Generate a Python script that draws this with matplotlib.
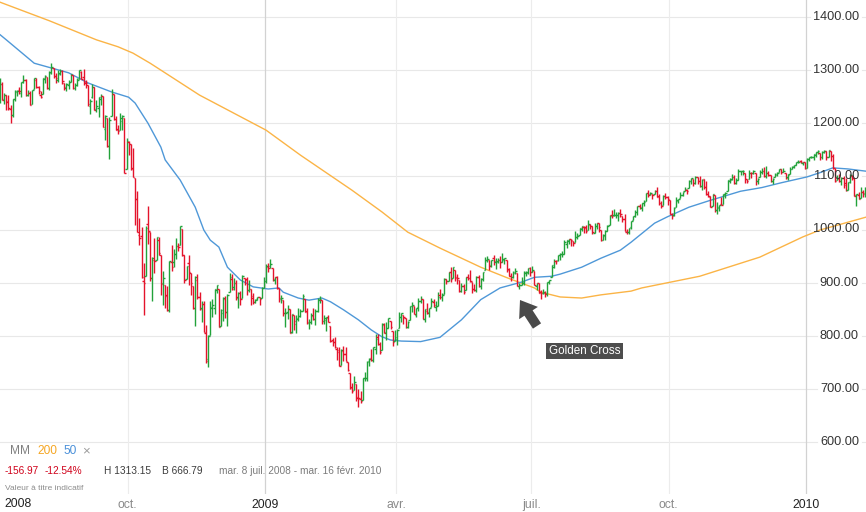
import numpy as np
import pandas as pd
import matplotlib
matplotlib.use("Agg")
import matplotlib.pyplot as plt
from matplotlib.collections import LineCollection

# ---------------- data (S&P 500 daily, 8 Jul 2008 - 16 Feb 2010) ----------------
opens = [
    # Jul 2008
    1251.8, 1273.4, 1245.0, 1253.0, 1241.0, 1226.0, 1214.6, 1246.0, 1258.2, 1261.8, 1257.0, 1278.0, 1282.0, 1253.5, 1257.8, 1236.4, 1264.5, 1281.4,
    # Aug 2008
    1269.0, 1253.3, 1254.9, 1284.0, 1286.5, 1266.3, 1294.4, 1304.8, 1288.6, 1282.1, 1293.9, 1298.1, 1276.7, 1267.3, 1271.1, 1277.6, 1290.5, 1267.0, 1271.3, 1283.8, 1296.5,
    # Sep 2008
    1287.8, 1276.6, 1271.8, 1233.2, 1249.5, 1268.0, 1227.5, 1229.0, 1245.9, 1250.9, 1188.3, 1210.3, 1157.1, 1213.1, 1255.4, 1207.6, 1188.8, 1187.9, 1204.5, 1209.1, 1113.8,
    # Oct 2008
    1164.2, 1160.6, 1115.2, 1097.6, 1057.6, 988.9, 988.4, 902.3, 912.8, 1010.0, 994.6, 909.5, 942.3, 943.5, 980.4, 951.7, 899.1, 895.2, 874.3, 848.9, 939.5, 939.4, 953.1,
    # Nov 2008
    968.7, 971.3, 1001.8, 952.4, 907.4, 936.8, 917.2, 893.4, 853.1, 904.4, 873.2, 852.3, 859.0, 805.9, 755.8, 801.2, 853.4, 852.9, 886.9,
    # Dec 2008
    888.6, 817.9, 843.6, 869.8, 844.4, 882.7, 906.5, 892.2, 898.4, 871.8, 881.1, 871.5, 908.2, 906.0, 887.0, 887.2, 874.3, 863.9, 869.5, 872.4, 870.6, 890.6,
    # Jan 2009
    903.0, 929.2, 931.2, 927.5, 905.7, 909.9, 890.4, 869.8, 867.3, 842.0, 844.5, 849.6, 806.8, 839.7, 822.2, 832.5, 837.3, 845.7, 868.9, 845.7,
    # Feb 2009
    823.1, 825.7, 837.8, 831.8, 846.1, 868.2, 866.9, 827.4, 829.9, 834.0, 818.6, 791.1, 787.9, 775.9, 773.3, 744.7, 770.6, 765.8, 749.9,
    # Mar 2009
    729.6, 704.4, 698.6, 708.3, 684.0, 680.8, 679.3, 719.6, 720.9, 752.0, 758.8, 753.9, 776.0, 797.9, 784.6, 772.3, 820.6, 806.8, 814.1, 828.7, 809.1, 790.9,
    # Apr 2009
    793.6, 814.5, 835.1, 839.8, 834.1, 816.8, 829.3, 855.3, 856.9, 839.4, 854.5, 865.2, 868.3, 831.3, 847.3, 844.6, 853.9, 862.8, 854.5, 856.9, 876.6,
    # May 2009
    872.7, 879.2, 906.1, 904.0, 919.6, 909.0, 923.0, 910.5, 905.4, 884.2, 892.8, 886.1, 909.7, 908.6, 900.4, 888.7, 887.0, 910.0, 893.0, 907.0,
    # Jun 2009
    923.3, 942.9, 942.5, 932.5, 945.7, 938.1, 940.4, 942.7, 939.0, 943.4, 942.5, 925.6, 911.9, 910.9, 920.0, 918.1, 893.5, 896.3, 899.5, 918.8, 919.9, 927.1,
    # Jul 2009
    920.8, 921.2, 894.3, 898.6, 881.9, 881.3, 880.0, 879.6, 900.8, 910.2, 930.2, 940.6, 942.1, 952.0, 953.4, 954.1, 972.2, 978.6, 981.5, 977.7, 976.0, 986.8,
    # Aug 2009
    990.2, 1001.4, 1005.4, 1004.1, 999.8, 1008.9, 1005.8, 994.0, 1005.9, 1012.2, 998.2, 980.6, 986.9, 996.4, 1009.1, 1026.6, 1026.6, 1027.4, 1027.8, 1031.6, 1025.2,
    # Sep 2009
    1019.5, 996.1, 996.1, 1003.8, 1018.7, 1025.4, 1033.0, 1043.9, 1040.2, 1049.0, 1054.0, 1067.9, 1066.6, 1067.1, 1066.4, 1072.7, 1062.6, 1049.5, 1045.4, 1063.7, 1061.0,
    # Oct 2009
    1054.9, 1029.7, 1026.9, 1042.0, 1053.7, 1060.0, 1065.3, 1071.6, 1075.0, 1078.7, 1090.4, 1094.7, 1088.2, 1098.6, 1091.4, 1081.0, 1095.6, 1080.4, 1067.5, 1061.5, 1043.7, 1065.4,
    # Nov 2009
    1036.2, 1040.9, 1047.1, 1047.3, 1065.0, 1072.3, 1092.2, 1096.0, 1098.3, 1087.6, 1094.1, 1109.2, 1109.4, 1106.4, 1094.7, 1094.9, 1105.8, 1106.5, 1105.5, 1091.1,
    # Dec 2009
    1098.9, 1109.0, 1110.6, 1100.4, 1105.5, 1103.0, 1091.1, 1098.7, 1104.0, 1107.8, 1114.1, 1108.6, 1106.4, 1097.9, 1105.3, 1114.5, 1118.8, 1121.1, 1127.5, 1128.6, 1125.5, 1126.6,
    # Jan 2010
    1116.6, 1132.7, 1135.7, 1136.3, 1140.5, 1146.0, 1143.8, 1137.3, 1145.7, 1147.7, 1136.0, 1147.7, 1138.7, 1115.5, 1092.4, 1095.8, 1091.9, 1096.9, 1087.6,
    # Feb 2010
    1073.9, 1090.1, 1100.7, 1097.3, 1064.1, 1065.5, 1060.1, 1069.7, 1067.1, 1076.0, 1079.1,
]

highs = [
    1285.3, 1277.4, 1257.6, 1253.4, 1254.0, 1234.4, 1246.2, 1262.3, 1262.2, 1267.7, 1277.4, 1291.2, 1283.0, 1263.2, 1260.1, 1263.2, 1284.3, 1284.9,
    1270.5, 1260.5, 1284.9, 1291.7, 1286.5, 1297.9, 1313.2, 1304.8, 1294.0, 1300.1, 1302.0, 1300.2, 1276.7, 1276.0, 1281.4, 1293.1, 1290.5, 1275.7, 1285.1, 1300.7, 1297.6,
    1303.0, 1280.6, 1271.8, 1244.9, 1274.4, 1268.7, 1243.9, 1250.0, 1255.1, 1250.9, 1214.8, 1210.3, 1211.1, 1265.3, 1255.4, 1214.1, 1197.4, 1220.0, 1215.8, 1209.1, 1171.4,
    1167.0, 1160.6, 1153.8, 1097.6, 1072.9, 1021.1, 1005.3, 936.4, 1006.9, 1044.3, 994.6, 947.7, 984.6, 985.4, 985.4, 951.7, 922.8, 896.3, 893.8, 940.5, 970.0, 963.2, 984.4,
    975.2, 1007.5, 1001.8, 952.4, 931.5, 951.9, 917.2, 893.4, 913.0, 916.9, 882.3, 865.9, 864.6, 820.5, 801.2, 865.6, 868.9, 887.7, 896.3,
    888.6, 850.5, 873.1, 875.6, 879.4, 918.6, 916.3, 908.3, 904.6, 883.2, 884.6, 914.7, 908.2, 911.0, 905.5, 887.4, 880.4, 869.8, 873.7, 873.7, 891.1, 910.3,
    934.7, 936.6, 943.9, 927.5, 910.0, 911.9, 890.4, 877.0, 867.3, 851.6, 858.1, 849.6, 841.7, 839.7, 838.6, 852.5, 850.5, 877.9, 868.9, 851.7,
    830.8, 842.6, 851.9, 850.6, 870.8, 875.0, 868.1, 838.2, 835.5, 839.4, 818.6, 796.2, 797.6, 778.7, 777.9, 775.5, 780.1, 779.4, 751.3,
    729.6, 711.7, 724.1, 708.3, 699.1, 695.3, 719.6, 731.9, 752.6, 758.3, 774.5, 778.1, 803.0, 803.2, 788.9, 823.4, 823.7, 826.0, 833.0, 828.7, 809.1, 810.5,
    813.6, 845.6, 842.5, 839.8, 834.1, 828.4, 856.9, 864.3, 856.9, 852.9, 870.4, 875.6, 868.3, 850.1, 861.8, 852.9, 871.8, 868.8, 864.5, 882.1, 888.7,
    880.5, 907.9, 907.7, 920.3, 930.2, 930.2, 923.0, 915.6, 905.4, 898.4, 897.0, 910.0, 916.4, 924.6, 900.4, 896.7, 911.8, 913.8, 909.5, 920.0,
    947.8, 949.4, 942.5, 942.5, 951.7, 946.3, 946.9, 949.8, 956.2, 946.3, 942.5, 928.0, 918.4, 921.9, 927.1, 918.1, 898.7, 910.9, 921.4, 922.0, 928.0, 930.0,
    931.9, 921.2, 898.7, 898.6, 886.8, 887.9, 883.6, 901.1, 905.8, 933.0, 944.0, 941.9, 951.6, 956.5, 959.8, 979.4, 979.8, 982.5, 982.3, 977.8, 996.7, 993.2,
    1003.6, 1007.1, 1006.6, 1008.0, 1018.0, 1010.1, 1005.8, 1012.8, 1013.1, 1012.6, 998.2, 991.2, 999.6, 1008.9, 1027.6, 1035.8, 1037.8, 1032.5, 1033.3, 1039.5, 1025.2,
    1028.5, 1000.3, 1003.4, 1016.5, 1026.1, 1036.3, 1044.1, 1048.2, 1049.7, 1056.0, 1068.8, 1074.8, 1071.5, 1067.3, 1073.8, 1080.2, 1066.3, 1053.5, 1065.1, 1069.6, 1063.4,
    1054.9, 1030.6, 1042.6, 1060.6, 1058.0, 1070.7, 1071.5, 1079.5, 1075.3, 1093.2, 1096.6, 1094.7, 1100.2, 1098.6, 1101.4, 1095.2, 1095.8, 1091.8, 1072.5, 1063.3, 1066.8, 1065.4,
    1052.2, 1046.4, 1061.0, 1066.7, 1071.5, 1093.2, 1096.1, 1105.4, 1102.0, 1097.6, 1113.7, 1110.5, 1111.1, 1106.4, 1094.7, 1112.4, 1107.6, 1111.2, 1105.5, 1097.2,
    1112.3, 1115.6, 1117.3, 1119.1, 1110.7, 1103.0, 1097.0, 1106.3, 1108.5, 1114.8, 1114.1, 1116.2, 1106.4, 1103.7, 1117.7, 1120.3, 1122.0, 1126.5, 1130.4, 1130.4, 1126.4, 1127.6,
    1133.9, 1136.6, 1139.2, 1142.5, 1145.4, 1149.7, 1143.8, 1148.4, 1150.4, 1147.7, 1150.5, 1147.7, 1141.6, 1115.5, 1103.0, 1103.7, 1099.5, 1100.2, 1096.5,
    1089.4, 1104.7, 1102.7, 1097.3, 1067.1, 1071.2, 1079.3, 1073.7, 1080.0, 1077.8, 1095.0,
]

lows = [
    1238.3, 1244.4, 1236.8, 1225.0, 1225.4, 1200.4, 1211.4, 1241.5, 1251.8, 1255.7, 1248.8, 1276.1, 1251.5, 1251.8, 1234.4, 1236.4, 1264.5, 1265.7,
    1254.5, 1247.4, 1254.7, 1276.0, 1264.3, 1263.2, 1292.8, 1285.6, 1274.9, 1276.8, 1290.7, 1274.5, 1263.1, 1261.2, 1265.2, 1277.6, 1264.9, 1263.2, 1270.0, 1283.8, 1282.7,
    1272.2, 1265.6, 1232.8, 1217.2, 1247.1, 1224.5, 1221.6, 1211.5, 1233.8, 1192.7, 1169.3, 1155.9, 1133.5, 1213.1, 1205.6, 1187.8, 1179.8, 1187.9, 1187.5, 1106.4, 1113.8,
    1140.8, 1111.4, 1098.1, 1008.0, 996.2, 971.0, 909.2, 839.8, 912.8, 972.1, 904.0, 865.8, 918.7, 943.5, 952.5, 875.8, 858.4, 852.9, 845.8, 845.3, 922.3, 928.5, 944.6,
    958.6, 971.3, 949.9, 899.7, 906.9, 895.9, 876.1, 850.5, 818.7, 869.9, 849.0, 826.8, 806.2, 747.8, 741.0, 801.2, 835.0, 841.4, 881.2,
    815.7, 817.9, 827.6, 833.6, 818.4, 882.7, 885.4, 885.4, 866.8, 851.4, 857.7, 871.5, 895.9, 877.4, 883.0, 857.1, 860.1, 861.4, 866.5, 857.1, 870.6, 889.4,
    899.4, 919.5, 927.3, 902.4, 896.8, 888.3, 864.3, 862.0, 836.9, 817.0, 830.7, 804.5, 804.3, 811.3, 804.3, 827.7, 835.4, 845.7, 844.0, 821.7,
    812.9, 822.0, 829.2, 819.9, 845.4, 861.7, 823.0, 822.3, 808.1, 825.2, 789.1, 780.4, 777.0, 754.3, 742.4, 744.7, 752.9, 751.8, 734.5,
    699.7, 692.3, 698.6, 677.9, 666.8, 672.9, 679.3, 713.9, 714.8, 742.5, 753.4, 749.9, 765.6, 781.8, 766.2, 772.3, 805.5, 791.4, 814.1, 813.4, 779.8, 790.9,
    783.3, 814.5, 826.7, 822.8, 814.5, 814.8, 829.3, 845.4, 840.1, 835.6, 847.0, 860.9, 832.4, 826.8, 840.6, 835.6, 853.9, 854.7, 847.1, 856.9, 868.3,
    866.1, 879.2, 897.3, 904.0, 901.9, 909.0, 903.7, 896.8, 882.5, 882.5, 878.9, 886.1, 905.2, 901.4, 879.6, 884.8, 881.5, 891.9, 887.6, 903.6,
    923.3, 938.5, 923.9, 929.3, 934.1, 926.4, 936.2, 928.0, 939.0, 935.7, 919.7, 911.6, 903.8, 907.9, 915.8, 893.0, 888.9, 896.3, 896.3, 913.0, 916.2, 912.9,
    920.8, 896.4, 886.4, 879.9, 869.3, 878.5, 872.8, 875.3, 896.5, 910.2, 927.5, 934.9, 940.9, 943.2, 947.8, 953.3, 966.0, 972.3, 969.4, 968.7, 976.0, 982.9,
    990.2, 996.7, 994.3, 992.5, 999.8, 1001.0, 992.4, 993.4, 1000.8, 994.6, 978.5, 980.6, 980.6, 996.4, 1009.1, 1022.5, 1026.2, 1021.6, 1016.2, 1023.1, 1014.6,
    996.3, 992.0, 992.3, 1001.7, 1018.7, 1024.0, 1028.0, 1038.4, 1035.0, 1043.4, 1052.9, 1061.0, 1064.3, 1057.5, 1066.4, 1060.4, 1045.9, 1041.2, 1045.4, 1057.8, 1046.5,
    1029.4, 1020.0, 1025.9, 1042.0, 1050.1, 1060.0, 1063.0, 1071.6, 1066.7, 1078.7, 1086.4, 1081.5, 1086.5, 1086.2, 1080.8, 1074.3, 1075.5, 1065.2, 1060.6, 1042.2, 1043.7, 1033.4,
    1029.4, 1033.9, 1045.2, 1047.3, 1059.3, 1072.3, 1087.4, 1093.8, 1084.9, 1085.3, 1094.1, 1102.2, 1102.7, 1088.4, 1086.8, 1094.9, 1097.6, 1104.8, 1083.7, 1086.3,
    1098.9, 1105.3, 1098.7, 1096.5, 1100.8, 1088.6, 1085.9, 1098.7, 1101.3, 1107.8, 1105.4, 1108.0, 1095.9, 1093.9, 1105.3, 1114.5, 1116.7, 1121.1, 1124.4, 1126.1, 1121.9, 1114.8,
    1116.6, 1129.7, 1134.0, 1131.3, 1136.2, 1142.0, 1131.4, 1133.2, 1143.8, 1131.4, 1135.8, 1129.3, 1114.8, 1090.2, 1092.4, 1089.9, 1083.1, 1078.5, 1071.6,
    1073.9, 1088.0, 1094.0, 1062.8, 1044.5, 1056.5, 1060.1, 1062.0, 1060.6, 1063.0, 1079.1,
]

closes = [
    1273.7, 1244.7, 1253.4, 1239.5, 1228.3, 1214.9, 1245.4, 1260.3, 1260.7, 1260.0, 1277.0, 1282.2, 1252.5, 1257.8, 1234.4, 1263.2, 1284.3, 1267.4,
    1260.3, 1249.0, 1284.9, 1289.2, 1266.1, 1296.3, 1305.3, 1289.6, 1285.8, 1292.9, 1298.2, 1278.6, 1266.7, 1274.5, 1277.7, 1292.2, 1266.8, 1271.5, 1281.7, 1300.7, 1282.8,
    1277.6, 1275.0, 1236.8, 1242.3, 1267.8, 1224.5, 1232.0, 1249.1, 1251.7, 1192.7, 1213.6, 1156.4, 1206.5, 1255.1, 1207.1, 1188.2, 1185.9, 1209.2, 1213.3, 1106.4, 1166.4,
    1161.1, 1114.3, 1099.2, 1056.9, 996.2, 984.9, 909.9, 899.2, 1003.4, 998.0, 907.8, 946.4, 940.6, 985.4, 955.1, 896.8, 908.1, 876.8, 848.9, 940.5, 930.1, 954.1, 968.8,
    966.3, 1005.8, 952.8, 904.9, 931.0, 919.2, 899.0, 852.3, 911.3, 873.3, 850.8, 859.1, 806.6, 752.4, 800.0, 851.8, 857.4, 887.7, 896.2,
    816.2, 848.8, 870.7, 845.2, 876.1, 909.7, 888.7, 899.2, 873.6, 879.7, 868.6, 913.2, 904.4, 885.3, 887.9, 871.6, 863.2, 868.2, 872.8, 869.4, 890.6, 903.3,
    931.8, 927.5, 934.7, 906.7, 909.7, 890.4, 870.3, 871.8, 842.6, 843.7, 850.1, 805.2, 840.2, 827.5, 832.0, 836.6, 845.7, 874.1, 845.1, 825.9,
    825.4, 838.5, 832.2, 845.9, 868.6, 869.9, 827.2, 833.7, 835.2, 826.8, 789.2, 788.4, 778.9, 770.1, 743.3, 773.1, 764.9, 752.8, 735.1,
    700.8, 696.3, 712.9, 682.6, 683.4, 676.5, 719.6, 721.4, 750.7, 756.6, 753.9, 778.1, 794.4, 784.0, 768.5, 822.9, 806.1, 813.9, 832.9, 815.9, 787.5, 797.9,
    811.1, 834.4, 842.5, 835.5, 815.6, 825.2, 856.6, 858.7, 841.5, 852.1, 865.3, 869.6, 832.4, 850.1, 843.6, 851.9, 866.2, 857.5, 855.2, 873.6, 872.8,
    877.5, 907.2, 903.8, 919.5, 907.4, 929.2, 909.2, 908.4, 883.9, 893.1, 882.9, 909.7, 908.1, 903.5, 888.3, 887.0, 910.3, 893.1, 906.8, 919.1,
    942.9, 944.7, 931.8, 942.5, 940.1, 939.1, 942.4, 939.2, 944.9, 946.2, 923.7, 912.0, 910.7, 918.4, 921.2, 893.0, 895.1, 900.9, 920.3, 918.9, 927.2, 919.3,
    923.3, 896.4, 898.7, 881.0, 879.6, 882.7, 879.1, 901.1, 905.8, 932.7, 940.7, 940.4, 951.1, 954.6, 954.1, 976.3, 979.3, 982.2, 979.6, 975.2, 986.8, 987.5,
    1002.6, 1005.7, 1002.7, 997.1, 1010.5, 1007.1, 994.4, 1005.8, 1012.7, 1004.1, 979.7, 989.7, 996.5, 1007.4, 1026.1, 1025.6, 1028.0, 1028.1, 1031.0, 1028.9, 1020.6,
    998.0, 994.8, 1003.2, 1016.4, 1025.4, 1033.4, 1044.1, 1042.7, 1049.3, 1052.6, 1068.8, 1065.5, 1068.3, 1064.7, 1071.7, 1060.9, 1050.8, 1044.4, 1063.0, 1060.6, 1057.1,
    1029.9, 1025.2, 1040.5, 1054.7, 1057.6, 1065.5, 1071.5, 1076.2, 1073.2, 1092.0, 1096.6, 1087.7, 1097.9, 1091.1, 1081.4, 1092.9, 1079.6, 1067.0, 1063.4, 1042.6, 1066.1, 1036.2,
    1042.9, 1045.4, 1046.5, 1066.6, 1069.3, 1093.1, 1093.0, 1098.5, 1087.2, 1093.5, 1109.3, 1110.3, 1109.8, 1094.9, 1091.4, 1106.2, 1105.7, 1110.6, 1091.5, 1095.6,
    1108.9, 1109.2, 1099.9, 1106.0, 1103.3, 1091.9, 1096.0, 1102.4, 1106.4, 1114.1, 1107.9, 1109.2, 1096.1, 1102.5, 1114.1, 1118.0, 1120.6, 1126.5, 1127.8, 1126.2, 1126.4, 1115.1,
    1133.0, 1136.5, 1137.1, 1141.7, 1145.0, 1147.0, 1136.2, 1145.7, 1148.5, 1136.0, 1150.2, 1138.0, 1116.5, 1091.8, 1096.8, 1092.2, 1097.5, 1084.5, 1073.9,
    1089.2, 1103.3, 1097.3, 1063.1, 1066.2, 1056.7, 1070.5, 1068.1, 1078.5, 1075.5, 1094.9,
]

# moving averages (trading-day index, value)
ma50_idx = [0, 3, 16, 24, 32, 41, 52, 60, 63, 69, 75, 77, 84, 91, 95, 98, 102, 106, 112, 118, 125, 130, 132,
            139, 144, 150, 154, 160, 167, 173, 178, 182, 187, 196, 205, 215, 224, 233, 243, 249, 257, 261,
            271, 280, 289, 294, 305, 311, 321, 331, 336, 345, 355, 364, 376, 382, 388, 395, 405]
ma50_val = [1367, 1357, 1313, 1304, 1295, 1276, 1259, 1249, 1238, 1200, 1155, 1131, 1093, 1042, 999, 980, 967,
            929, 905, 892, 888, 890, 882, 871, 867, 871, 864, 849, 830, 811, 798, 792, 790, 789, 797, 830,
            868, 890, 901, 910, 912, 916, 929, 946, 961, 976, 1012, 1024, 1042, 1055, 1061, 1072, 1079, 1088,
            1099, 1107, 1116, 1114, 1109]

ma200_idx = [0, 23, 45, 55, 62, 70, 75, 93, 124, 140, 164, 178, 190, 205, 224, 237, 243, 249, 252, 261, 271,
             280, 294, 299, 326, 354, 374, 382, 405]
ma200_val = [1428, 1393, 1357, 1344, 1332, 1313, 1300, 1253, 1187, 1140, 1074, 1033, 995, 965, 929, 908, 899,
             890, 882, 873, 871, 877, 884, 890, 912, 948, 986, 999, 1025]

y_ticks = [600, 700, 800, 900, 1000, 1100, 1200, 1300, 1400]
x_tick_dates = ["2008-10-01", "2009-01-02", "2009-04-01", "2009-07-01", "2009-10-01", "2010-01-04"]
x_tick_labels = ["oct.", "2009", "avr.", "juil.", "oct.", "2010"]
holidays = ["2008-09-01", "2008-11-27", "2008-12-25", "2009-01-01", "2009-01-19", "2009-02-16",
            "2009-04-10", "2009-05-25", "2009-07-03", "2009-09-07", "2009-11-26", "2009-12-25",
            "2010-01-01", "2010-01-18", "2010-02-15"]

# ---------------- figure ----------------
W, H = 866, 512
FONT = "Liberation Sans"
plt.rcParams["font.family"] = [FONT, "DejaVu Sans"]

fig = plt.figure(figsize=(W / 100, H / 100), dpi=100)
AX_H = 494
ax = fig.add_axes([0, (H - AX_H) / H, 1, AX_H / H])
for s in ax.spines.values():
    s.set_visible(False)

# pixel-calibrated limits
px_per_day = 2.1468
x0_px = -0.13
ax.set_xlim((0 - x0_px) / px_per_day, (W - x0_px) / px_per_day)
px_per_unit = 0.53125
ax.set_ylim(1400 - (AX_H - 17) / px_per_unit, 1400 + 17 / px_per_unit)

n = len(closes)
x = np.arange(n)
o = np.array(opens); h = np.array(highs); l = np.array(lows); c = np.array(closes)

GREEN = "#22a23a"
RED = "#e4132b"
tick = 0.7
segs, cols = [], []
for i in range(n):
    col = GREEN if c[i] >= o[i] else RED
    segs += [[(x[i], l[i]), (x[i], h[i])],
             [(x[i] - tick, o[i]), (x[i], o[i])],
             [(x[i], c[i]), (x[i] + tick, c[i])]]
    cols += [col] * 3
ax.add_collection(LineCollection(segs, colors=cols, linewidths=1.0, zorder=4, capstyle="butt"))

# moving averages
ax.plot(ma200_idx, ma200_val, color="#fbb446", lw=1.0, zorder=3, solid_capstyle="round",
        solid_joinstyle="round")
ax.plot(ma50_idx, ma50_val, color="#4f98d8", lw=1.0, zorder=3, solid_capstyle="round",
        solid_joinstyle="round")

# horizontal grid with gap for the labels
ytr = ax.get_yaxis_transform()
for v in y_ticks:
    lab = f"{v:.2f}"
    wlab = 45 if v >= 1000 else 38
    ax.plot([0, (859 - wlab - 4) / W], [v, v], transform=ytr, color="#e8e8e8", lw=0.8, zorder=0)
    ax.plot([862 / W, 1], [v, v], transform=ytr, color="#e8e8e8", lw=0.8, zorder=0)
    ax.text(859 / W, v, lab, transform=ytr, ha="right", va="center", fontsize=9.2,
            color="#333333", zorder=6)
ax.set_yticks([])

# x ticks at month boundaries
days = pd.bdate_range("2008-07-08", "2010-02-16")
days = days[~days.isin(pd.to_datetime(holidays))]
xpos = [days.searchsorted(pd.Timestamp(d)) - 0.5 for d in x_tick_dates]
for p, lab in zip(xpos, x_tick_labels):
    is_year = lab.isdigit()
    ax.axvline(p, color="#d2d2d2" if is_year else "#ececec", lw=0.9 if is_year else 0.8, zorder=0)
ax.set_xticks(xpos)
ax.set_xticklabels(x_tick_labels)
ax.tick_params(axis="x", length=0, pad=3.5, labelsize=8.8)
for lbl in ax.get_xticklabels():
    lbl.set_color("#222222" if lbl.get_text().isdigit() else "#8a8a8a")

fig.text(4 / W, 1 - 504 / H, "2008", ha="left", va="center", fontsize=8.8, color="#222222")

# legend / info
def ftxt(px, py, s, color, size):
    fig.text(px / W, 1 - py / H, s, ha="left", va="center", fontsize=size, color=color)

ftxt(10, 451, "MM", "#808080", 8.6)
ftxt(37, 451, "200", "#f5a623", 8.6)
ftxt(63, 451, "50", "#4a90d9", 8.6)
ftxt(82, 451, "\u00d7", "#9b9b9b", 9.5)
ftxt(5, 471, "-156.97", "#d0021b", 7.3)
ftxt(45, 471, "-12.54%", "#d0021b", 7.3)
ftxt(104, 471, "H 1313.15", "#3c3c3c", 7.3)
ftxt(162, 471, "B 666.79", "#3c3c3c", 7.3)
ftxt(219, 471, "mar. 8 juil. 2008 - mar. 16 f\u00e9vr. 2010", "#7b7b7b", 7.3)
ftxt(5, 488, "Valeur \u00e0 titre indicatif", "#8c8c8c", 6.0)

# Golden Cross annotation
def px2data(px, py):
    return (px - x0_px) / px_per_day, 1400 - (py - 17) / px_per_unit

tip = px2data(520, 300)
tail = px2data(537, 326)
ax.annotate("", xy=tip, xytext=tail,
            arrowprops=dict(arrowstyle="simple,head_length=0.8,head_width=1.15,tail_width=0.5",
                            fc="#4a4a4a", ec="none", mutation_scale=14, shrinkA=0, shrinkB=0),
            zorder=7)
tx, ty = px2data(584.5, 351)
ax.text(tx, ty, "Golden Cross", ha="center", va="center", fontsize=8.4, color="white",
        bbox=dict(boxstyle="square,pad=0.2", fc="#4d4d4d", ec="none"), zorder=7)

fig.savefig("out.png", dpi=100)
